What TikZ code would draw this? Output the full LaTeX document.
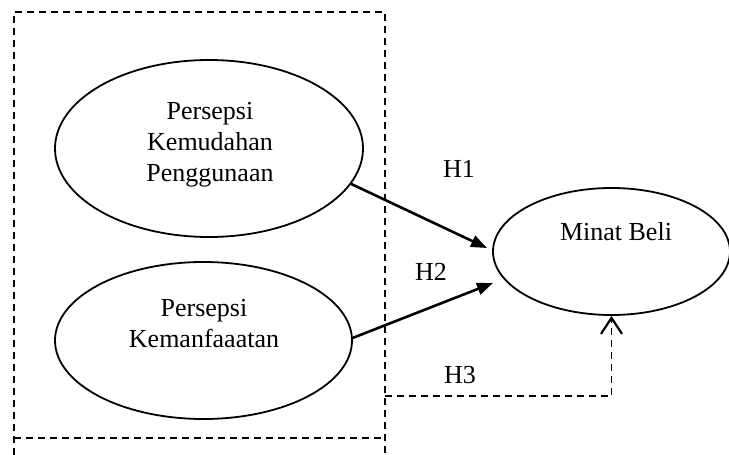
\documentclass[tikz,border=0pt]{standalone}
\usepackage{fontspec}
\setmainfont{Liberation Serif}
\usetikzlibrary{arrows.meta,shapes.geometric}
\begin{document}
\begin{tikzpicture}[x=1pt,y=-1pt,
  construct/.style={draw, ellipse, line width=1.8pt, inner sep=0pt},
  txt/.style={font=\fontsize{26}{31}\selectfont, inner sep=0pt, align=center},
  hyparrow/.style={line width=2.6pt, -{Triangle[length=16pt,width=12pt]}},
  dashedbox/.style={line width=1.8pt, dash pattern=on 7pt off 5pt},
  moderation/.style={line width=1.8pt, dash pattern=on 7pt off 5pt, -{Straight Barb[length=16pt,width=21pt,line width=2.2pt]}}
]
\useasboundingbox (0,0) rectangle (729,455);
\fill[white] (0,0) rectangle (729,455);

% dashed box
\draw[dashedbox] (14,455) -- (14,12) -- (385,12) -- (385,455);
\draw[dashedbox] (14,438) -- (385,438);

% ellipses
\node[construct, minimum width=308pt, minimum height=177pt] (e1) at (209,148.5) {};
\node[construct, minimum width=297pt, minimum height=157pt] (e2) at (203.5,340.5) {};
\node[construct, minimum width=237pt, minimum height=127pt] (e3) at (611.5,251.5) {};

% texts
\node[txt] (t1) at (210,145) {Persepsi\\Kemudahan\\Penggunaan};
\node[txt] (t2) at (204,324) {Persepsi\\Kemanfaaatan};
\node[txt, anchor=base] (t3) at (616,240) {Minat Beli};

% hypothesis labels
\node[txt, anchor=base] (h1) at (459,177) {H1};
\node[txt, anchor=base] (h2) at (431,280) {H2};
\node[txt, anchor=base] (h3) at (460,383) {H3};

% connectors
\coordinate (h1end) at (487,248);
\coordinate (h2end) at (493,283);
\coordinate (h3start) at (385,396);
\draw[hyparrow] (e1.-14.5) -- (h1end);
\draw[hyparrow] (e2.1.5) -- (h2end);
\draw[moderation] (h3start) -| (e3.south);
\end{tikzpicture}
\end{document}
